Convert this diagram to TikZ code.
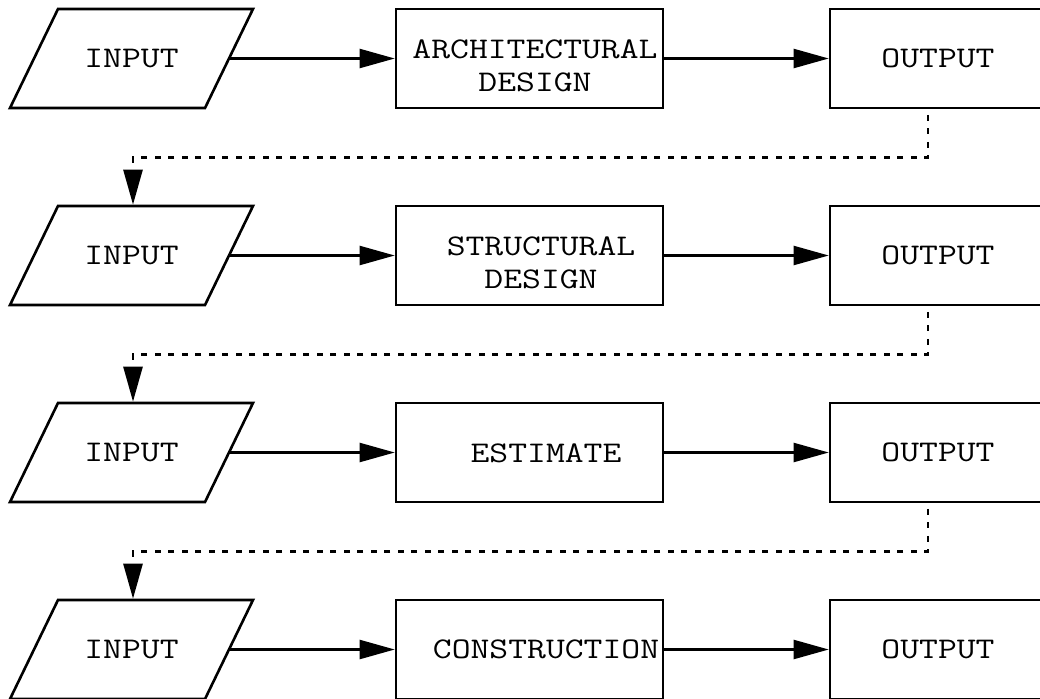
\documentclass[tikz,border=0pt]{standalone}
\usepackage{fontspec}
\setmonofont[FakeStretch=1.22]{Latin Modern Mono}
\usetikzlibrary{arrows.meta,calc}
\tikzset{
  labelfont/.style={font=\ttfamily\fontsize{30}{33}\selectfont},
  frame/.style={draw, line width=2.6pt, minimum height=99pt, inner sep=0pt},
  procbox/.style={frame, minimum width=267pt},
  outbox/.style={frame, minimum width=216pt, labelfont},
  inanchor/.style={minimum width=195pt, minimum height=99pt, inner sep=0pt, outer sep=0pt, labelfont},
  para/.style={line width=2.6pt, line join=miter},
  txt/.style={labelfont, align=center, inner sep=0pt},
  flow/.style={line width=2.2pt, -{Triangle[length=35pt,width=19pt]}},
  dots/.style={line width=2.6pt, dash pattern=on 6pt off 7.5pt, dash phase=8pt,
               -{Triangle[length=35pt,width=19pt]}},
}
\begin{document}
\begin{tikzpicture}[x=1pt,y=-1pt]
\useasboundingbox (0,0) rectangle (1040,698);
% input parallelograms (text nodes + outline)
\node[inanchor] (in1) at (131.5,58.5) {INPUT};
\node[inanchor] (in2) at (131.5,255.5) {INPUT};
\node[inanchor] (in3) at (131.5,452.5) {INPUT};
\node[inanchor] (in4) at (131.5,649.5) {INPUT};
\foreach \n in {in1,in2,in3,in4}{
  \draw[para] ([xshift=24pt]\n.north west) -- ([xshift=24pt]\n.north east)
     -- ([xshift=-24pt]\n.south east) -- ([xshift=-24pt]\n.south west) -- cycle;
}
% process boxes
\node[procbox] (p1) at (529.5,58.5) {};
\node[procbox] (p2) at (529.5,255.5) {};
\node[procbox] (p3) at (529.5,452.5) {};
\node[procbox] (p4) at (529.5,649.5) {};
\node[txt] (t1) at (535,66) {ARCHITECTURAL\\DESIGN};
\node[txt] (t2) at (541,262.5) {STRUCTURAL\\DESIGN};
\node[txt] (t3) at (546,453.5) {ESTIMATE};
\node[txt] (t4) at (546,649) {CONSTRUCTION};
% output boxes
\node[outbox] (o1) at (938,58.5) {OUTPUT};
\node[outbox] (o2) at (938,255.5) {OUTPUT};
\node[outbox] (o3) at (938,452.5) {OUTPUT};
\node[outbox] (o4) at (938,649.5) {OUTPUT};
% flows
\foreach \i in {1,2,3,4}{
  \draw[flow] (in\i.east) -- (p\i.west);
  \draw[flow] (p\i.east) -- (o\i.west);
}
% dotted feedback connectors
\coordinate (c1) at (133,157.5);
\coordinate (c2) at (133,354.5);
\coordinate (c3) at (133,551.5);
\draw[dots] ([xshift=-10pt]o1.south) |- (c1) -- ([yshift=1.3pt]c1 |- in2.north);
\draw[dots] ([xshift=-10pt]o2.south) |- (c2) -- ([yshift=1.3pt]c2 |- in3.north);
\draw[dots] ([xshift=-10pt]o3.south) |- (c3) -- ([yshift=1.3pt]c3 |- in4.north);
\end{tikzpicture}
\end{document}
